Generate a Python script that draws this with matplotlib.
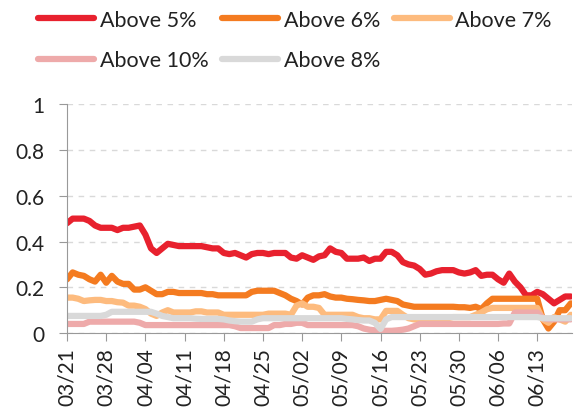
import matplotlib
matplotlib.use("Agg")
import matplotlib.pyplot as plt
import matplotlib.dates as mdates
import pandas as pd

plt.rcParams['font.family'] = ['Lato', 'DejaVu Sans']

dates = pd.date_range("2020-03-21", periods=91, freq="D")

above5 = [0.48, 0.50, 0.50, 0.50, 0.49, 0.47, 0.46, 0.46, 0.46, 0.45,
          0.46, 0.46, 0.465, 0.47, 0.43, 0.37, 0.35, 0.37, 0.39, 0.385,
          0.38, 0.38, 0.38, 0.38, 0.38, 0.375, 0.37, 0.37, 0.35, 0.345,
          0.35, 0.34, 0.33, 0.345, 0.35, 0.35, 0.345, 0.35, 0.35, 0.35,
          0.33, 0.325, 0.34, 0.33, 0.32, 0.335, 0.34, 0.37, 0.355, 0.35,
          0.325, 0.325, 0.325, 0.33, 0.315, 0.325, 0.325, 0.355, 0.355, 0.34,
          0.31, 0.30, 0.295, 0.28, 0.255, 0.26, 0.27, 0.275, 0.275, 0.275,
          0.265, 0.26, 0.265, 0.275, 0.25, 0.255, 0.255, 0.235, 0.22, 0.26,
          0.225, 0.20, 0.165, 0.165, 0.18, 0.17, 0.15, 0.13, 0.145, 0.16,
          0.16]

above6 = [0.235, 0.265, 0.255, 0.25, 0.235, 0.225, 0.255, 0.22, 0.25, 0.225,
          0.215, 0.215, 0.19, 0.19, 0.20, 0.185, 0.17, 0.17, 0.18, 0.18,
          0.175, 0.175, 0.175, 0.175, 0.175, 0.17, 0.17, 0.165, 0.165, 0.165,
          0.165, 0.165, 0.165, 0.18, 0.185, 0.185, 0.185, 0.185, 0.175, 0.165,
          0.15, 0.14, 0.125, 0.155, 0.165, 0.165, 0.17, 0.16, 0.155, 0.155,
          0.15, 0.148, 0.145, 0.143, 0.14, 0.14, 0.145, 0.15, 0.145, 0.14,
          0.125, 0.12, 0.115, 0.115, 0.115, 0.115, 0.115, 0.115, 0.115, 0.115,
          0.113, 0.113, 0.11, 0.115, 0.105, 0.13, 0.15, 0.15, 0.15, 0.15,
          0.15, 0.15, 0.15, 0.15, 0.15, 0.06, 0.02, 0.05, 0.10, 0.10,
          0.13]

above7 = [0.155, 0.155, 0.15, 0.14, 0.143, 0.145, 0.145, 0.14, 0.14, 0.135,
          0.133, 0.12, 0.12, 0.115, 0.105, 0.085, 0.075, 0.09, 0.10, 0.09,
          0.09, 0.09, 0.09, 0.095, 0.095, 0.09, 0.09, 0.09, 0.08, 0.08,
          0.08, 0.08, 0.08, 0.08, 0.08, 0.08, 0.085, 0.085, 0.085, 0.085,
          0.08, 0.12, 0.13, 0.115, 0.115, 0.11, 0.08, 0.08, 0.08, 0.08,
          0.08, 0.08, 0.07, 0.065, 0.065, 0.06, 0.06, 0.097, 0.097, 0.097,
          0.08, 0.065, 0.06, 0.06, 0.065, 0.065, 0.065, 0.065, 0.065, 0.07,
          0.07, 0.07, 0.07, 0.08, 0.09, 0.104, 0.11, 0.11, 0.11, 0.11,
          0.11, 0.11, 0.11, 0.11, 0.11, 0.06, 0.045, 0.07, 0.06, 0.05,
          0.08]

above10 = [0.04, 0.04, 0.04, 0.04, 0.05, 0.05, 0.05, 0.05, 0.05, 0.05,
           0.05, 0.05, 0.05, 0.045, 0.035, 0.035, 0.035, 0.035, 0.035, 0.035,
           0.035, 0.035, 0.035, 0.035, 0.035, 0.035, 0.035, 0.035, 0.035, 0.035,
           0.03, 0.022, 0.022, 0.022, 0.022, 0.022, 0.022, 0.035, 0.035, 0.04,
           0.04, 0.045, 0.045, 0.035, 0.035, 0.035, 0.035, 0.035, 0.035, 0.035,
           0.035, 0.035, 0.03, 0.02, 0.015, 0.012, 0.01, 0.01, 0.01, 0.012,
           0.015, 0.02, 0.03, 0.04, 0.04, 0.04, 0.04, 0.04, 0.04, 0.04,
           0.04, 0.04, 0.04, 0.04, 0.04, 0.04, 0.04, 0.04, 0.042, 0.042,
           0.09, 0.09, 0.09, 0.09, 0.09, 0.065, 0.06, 0.06, 0.06, 0.06,
           0.06]

above8 = [0.075, 0.075, 0.075, 0.075, 0.075, 0.075, 0.075, 0.08, 0.093, 0.093,
          0.093, 0.093, 0.093, 0.093, 0.093, 0.093, 0.085, 0.075, 0.07, 0.065,
          0.065, 0.065, 0.065, 0.063, 0.062, 0.062, 0.062, 0.062, 0.06, 0.055,
          0.052, 0.05, 0.05, 0.05, 0.06, 0.065, 0.065, 0.065, 0.065, 0.065,
          0.065, 0.065, 0.065, 0.065, 0.065, 0.065, 0.065, 0.065, 0.065, 0.065,
          0.062, 0.06, 0.057, 0.055, 0.055, 0.045, 0.018, 0.06, 0.07, 0.07,
          0.07, 0.07, 0.07, 0.07, 0.07, 0.07, 0.07, 0.07, 0.07, 0.07,
          0.07, 0.07, 0.07, 0.07, 0.07, 0.07, 0.07, 0.07, 0.07, 0.07,
          0.07, 0.07, 0.07, 0.07, 0.07, 0.065, 0.065, 0.065, 0.065, 0.065,
          0.065]

series = [("Above 5%", above5, "#e8212e"),
          ("Above 6%", above6, "#f47b20"),
          ("Above 7%", above7, "#fdbb7e"),
          ("Above 10%", above10, "#eeaaaa"),
          ("Above 8%", above8, "#d9d9d9")]

fig = plt.figure(figsize=(5.78, 4.14), dpi=100)
ax = fig.add_axes([0.116, 0.193, 0.874, 0.553])

lines = []
for name, vals, col in series:
    ln, = ax.plot(dates, vals, color=col, lw=4.5, label=name,
                  solid_capstyle="round", solid_joinstyle="round")
    lines.append(ln)

ax.set_ylim(0, 1)
ax.set_xlim(dates[0], dates[-1] + pd.Timedelta(hours=6))
ax.set_yticks([0, 0.2, 0.4, 0.6, 0.8, 1])
ax.set_yticklabels(["0", "0.2", "0.4", "0.6", "0.8", "1"])
ax.set_xticks(pd.date_range("2020-03-21", "2020-06-13", freq="7D"))
ax.xaxis.set_major_formatter(mdates.DateFormatter("%m/%d"))

ax.grid(axis="y", color="#d9d9d9", ls=(0, (4, 4)), lw=1)
ax.set_axisbelow(True)
for s in ["top", "right"]:
    ax.spines[s].set_visible(False)
for s in ["left", "bottom"]:
    ax.spines[s].set_color("#999999")
ax.tick_params(axis="both", colors="#999999", labelcolor="#222222",
               labelsize=15, length=6)
ax.tick_params(axis="x", labelrotation=90, pad=4)
ax.tick_params(axis="y", pad=10)

# legend is filled column by column, so order handles to read row-wise
order = [0, 3, 1, 4, 2]
leg = fig.legend([lines[i] for i in order], [series[i][0] for i in order],
                 loc="upper left", bbox_to_anchor=(0.04, 1.01), ncol=3,
                 frameon=False, fontsize=15.5, handlelength=2.6,
                 handletextpad=0.25, columnspacing=0.65, labelspacing=0.95,
                 borderpad=0.2)
for h in leg.get_lines():
    h.set_linewidth(4.5)
    h.set_solid_capstyle("round")
for t in leg.get_texts():
    t.set_color("#222222")

plt.savefig("out.png", dpi=100)
